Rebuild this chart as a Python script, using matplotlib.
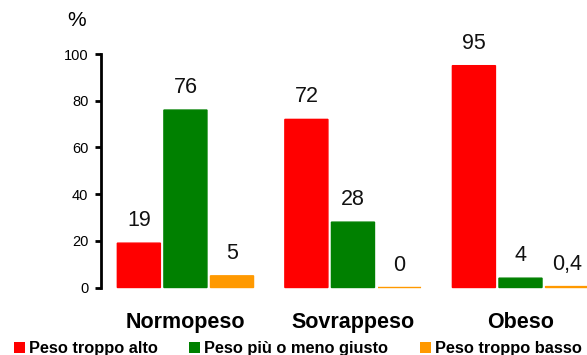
import matplotlib
matplotlib.use("Agg")
import matplotlib.pyplot as plt
from matplotlib.patches import Rectangle
import numpy as np

plt.rcParams['font.family'] = ['Liberation Sans', 'DejaVu Sans']

categories = ["Normopeso", "Sovrappeso", "Obeso"]
series_names = ["Peso troppo alto", "Peso più o meno giusto", "Peso troppo basso"]
troppo_alto = [19, 72, 95]
meno_giusto = [76, 28, 4]
troppo_basso = [5, 0, 0.4]
yticks = [0, 20, 40, 60, 80, 100]

colors = ["#FF0000", "#008000", "#FF9900"]
series = [troppo_alto, meno_giusto, troppo_basso]

W, H = 587, 355
fig = plt.figure(figsize=(W / 100, H / 100), dpi=100)
ax = fig.add_axes([101 / W, (H - 287.5) / H, (W - 101) / W, (287.5 - 54) / H])

x = np.arange(len(categories))
step = 0.278
width = 0.257
for i, (vals, col) in enumerate(zip(series, colors)):
    pos = x + (i - 1) * step
    bars = ax.bar(pos, vals, width=width, color=col, edgecolor=col,
                  linewidth=1.0, clip_on=False)
    for b in bars:
        b.set_snap(False)
    for p, v in zip(pos, vals):
        txt = f"{v:g}".replace(".", ",")
        ax.annotate(txt, (p, v), xytext=(0, 12.2), textcoords="offset points",
                    ha="center", va="baseline", fontsize=15.5, color="#111111",
                    annotation_clip=False)

ax.set_xlim(-0.504, 2.397)
ax.set_ylim(0, 100)
ax.set_yticks(yticks)
ax.set_xticks([])
for s in ["top", "right", "bottom"]:
    ax.spines[s].set_visible(False)
ax.spines["left"].set_linewidth(2.0)
ax.spines["left"].set_bounds(0, 100)
ax.tick_params(axis="y", length=4, width=2, pad=5, labelsize=10.5, colors="black")
ax.patch.set_visible(False)

# "%" unit label above the axis
fig.text(77 / W, 1 - 21 / H, "%", ha="center", va="center", fontsize=15)

# category labels
for xi, c in zip(x, categories):
    ax.text(xi, -17.5, c, ha="center", va="baseline", fontsize=15.5,
            fontweight="bold", clip_on=False)

# legend row
sq_x = [14, 189, 420]
for sx, name, col in zip(sq_x, series_names, colors):
    fig.patches.append(Rectangle((sx / W, (H - 353) / H), 11 / W, 11 / H,
                                 transform=fig.transFigure, facecolor=col,
                                 edgecolor="none"))
    fig.text((sx + 15) / W, (H - 352.5) / H, name, ha="left", va="baseline",
             fontsize=11.8, fontweight="bold")

fig.savefig("out.png", dpi=100)
